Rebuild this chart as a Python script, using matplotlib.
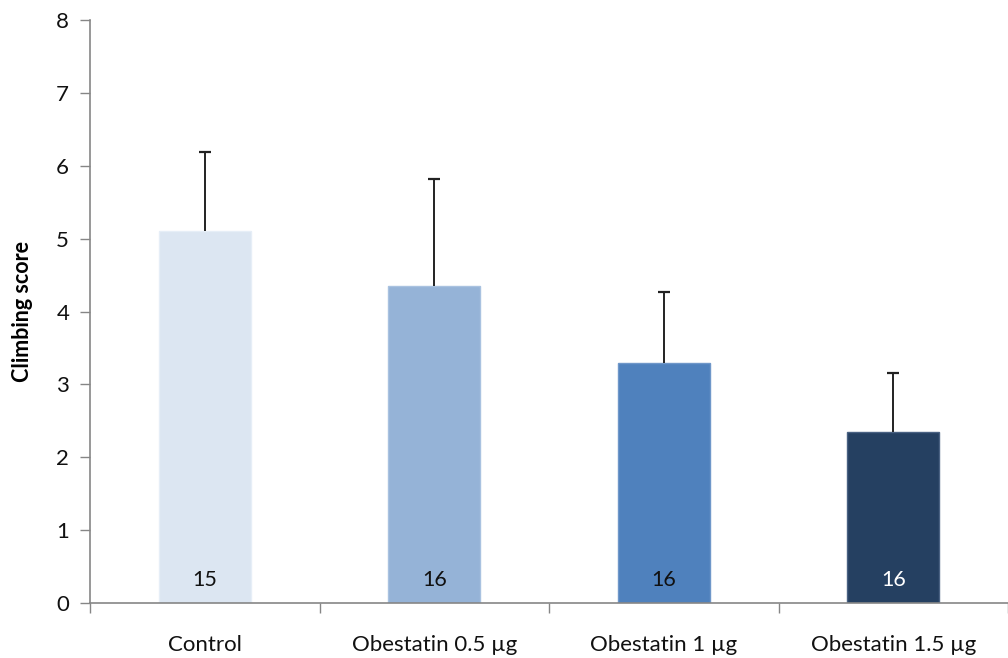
import matplotlib.pyplot as plt
import numpy as np

groups = ["Control", "Obestatin 0.5 µg", "Obestatin 1 µg", "Obestatin 1.5 µg"]
scores = [5.10, 4.35, 3.29, 2.35]
sem = [1.09, 1.47, 0.98, 0.81]
n_animals = [15, 16, 16, 16]

colors = ["#DCE6F2", "#95B3D7", "#4F81BD", "#254061"]
edges = ["#E6EEF7", "#A9C2E0", "#6F97C9", "#4A6283"]
n_colors = ["#111111", "#111111", "#111111", "#ffffff"]

plt.rcParams["font.family"] = ["Lato", "DejaVu Sans"]

fig = plt.figure(figsize=(10.08, 6.58), dpi=100)
ax = fig.add_axes([90 / 1008, 55 / 658, 1 - 90 / 1008, 583 / 658])

x = np.arange(len(groups))
ax.bar(x, scores, width=0.4, color=colors, edgecolor=edges, linewidth=1, zorder=2)
_, caps, _ = ax.errorbar(x, scores, yerr=[np.zeros(len(sem)), sem], fmt="none",
                         ecolor="#222222", elinewidth=1.4, capsize=4.5,
                         capthick=1.6, zorder=3)
# only the upper half of the SEM bar is shown
caps[0].set_visible(False)

for xi, n, c in zip(x, n_animals, n_colors):
    ax.text(xi, 0.32, str(n), ha="center", va="center", fontsize=15.5, color=c)

ax.set_xlim(-0.5, 3.46)
ax.set_ylim(0, 8)
ax.set_yticks(range(0, 9))
ax.tick_params(axis="y", labelsize=16, length=7, width=1, color="#868686",
               labelcolor="#111111", pad=8)

ax.set_xticks(x)
ax.set_xticklabels(groups)
ax.set_xticks(np.arange(-0.5, 4, 1), minor=True)
ax.tick_params(axis="x", which="major", length=0, pad=23, labelsize=16,
               labelcolor="#111111")
ax.tick_params(axis="x", which="minor", length=7, width=1, color="#868686")

for side in ("top", "right"):
    ax.spines[side].set_visible(False)
for side in ("left", "bottom"):
    ax.spines[side].set_color("#868686")
    ax.spines[side].set_linewidth(1.2)

ax.set_ylabel("Climbing score", fontsize=15.5, fontweight="bold", labelpad=17)

fig.savefig("out.png", dpi=100)
